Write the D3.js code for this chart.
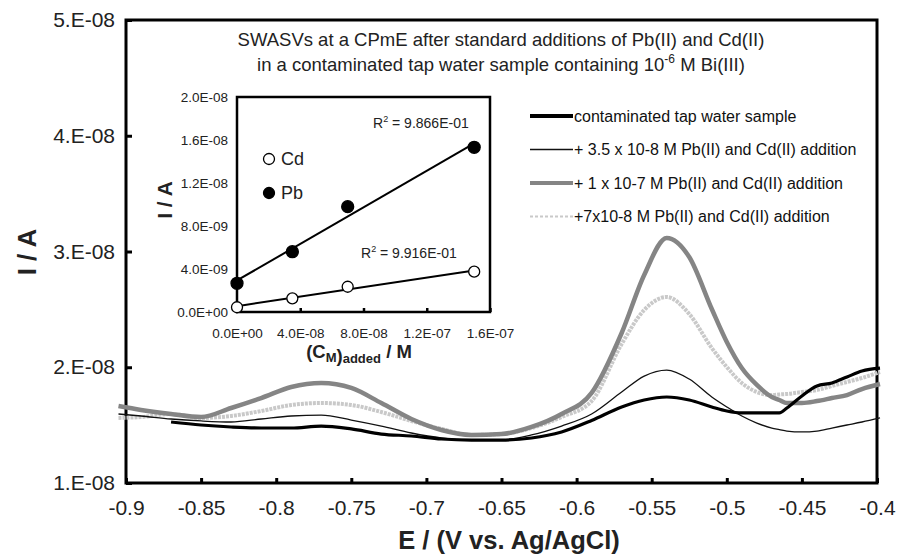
<!DOCTYPE html>
<html lang="en">

<head>
    <meta charset="UTF-8">
    <title>SWASV</title>
    <script src="https://d3js.org/d3.v7.min.js"></script>
    <style>
        * {
            margin: 0;
            padding: 0;
        }

        body {
            background: #fff;
        }

        svg text {
            font-family: "Liberation Sans", Arial, sans-serif;
        }
    </style>
</head>

<body>
    <div id="chart"></div>
    <script>
        // potential grid (V vs. Ag/AgCl)
        const potential = [-0.905, -0.89, -0.87, -0.85, -0.83, -0.81, -0.79, -0.77, -0.75, -0.73, -0.71, -0.69,
            -0.67, -0.65, -0.63, -0.61, -0.59, -0.57, -0.555, -0.54, -0.525, -0.51, -0.50, -0.49, -0.48, -0.47,
            -0.465, -0.46, -0.45, -0.44, -0.43, -0.42, -0.41, -0.398];

        // currents, in units of 1E-08 A
        const sampleI = [null, null, 1.527, 1.501, 1.484, 1.475, 1.475, 1.492, 1.467, 1.423, 1.406, 1.380,
            1.371, 1.371, 1.389, 1.441, 1.540, 1.657, 1.717, 1.743, 1.717, 1.657, 1.622, 1.605, 1.605, 1.605,
            1.605, 1.648, 1.752, 1.838, 1.864, 1.916, 1.968, 1.993];
        const add35I = [1.596, 1.579, 1.553, 1.536, 1.527, 1.553, 1.579, 1.587, 1.544, 1.492, 1.432, 1.389,
            1.371, 1.371, 1.415, 1.492, 1.596, 1.786, 1.924, 1.976, 1.898, 1.743, 1.657, 1.579, 1.518, 1.475,
            1.462, 1.449, 1.441, 1.449, 1.475, 1.501, 1.527, 1.562];
        const add100I = [1.665, 1.631, 1.596, 1.570, 1.648, 1.734, 1.829, 1.864, 1.821, 1.691, 1.553, 1.458,
            1.415, 1.423, 1.484, 1.596, 1.778, 2.296, 2.797, 3.117, 2.952, 2.503, 2.218, 1.993, 1.847, 1.743,
            1.717, 1.691, 1.691, 1.708, 1.734, 1.760, 1.812, 1.855];
        const add70I = [1.562, 1.570, 1.596, 1.562, 1.579, 1.622, 1.674, 1.691, 1.674, 1.613, 1.536, 1.467,
            1.415, 1.423, 1.475, 1.570, 1.708, 2.201, 2.495, 2.607, 2.460, 2.166, 2.002, 1.864, 1.786, 1.760,
            1.765, 1.769, 1.786, 1.803, 1.838, 1.873, 1.907, 1.959];

        const seriesNames = ['contaminated tap water sample', '+ 3.5 x 10-8 M Pb(II) and Cd(II) addition',
            '+ 1 x 10-7 M Pb(II) and Cd(II) addition', '+7x10-8 M Pb(II) and Cd(II) addition'];

        const yTickValues = [1e-8, 2e-8, 3e-8, 4e-8, 5e-8];
        const yTickLabels = ['1.E-08', '2.E-08', '3.E-08', '4.E-08', '5.E-08'];
        const xTickValues = [-0.9, -0.85, -0.8, -0.75, -0.7, -0.65, -0.6, -0.55, -0.5, -0.45, -0.4];
        const xTickLabels = ['-0.9', '-0.85', '-0.8', '-0.75', '-0.7', '-0.65', '-0.6', '-0.55', '-0.5', '-0.45', '-0.4'];

        // inset: peak current vs added concentration
        const added = [0, 3.5e-8, 7e-8, 1.5e-7];
        const peakPb = [2.67e-9, 5.61e-9, 9.80e-9, 15.32e-9];
        const peakCd = [0.44e-9, 1.27e-9, 2.35e-9, 3.75e-9];
        const r2Labels = ['9.866E-01', '9.916E-01'];
        const insetXTicks = [0, 4e-8, 8e-8, 1.2e-7, 1.6e-7];
        const insetXLabels = ['0.0E+00', '4.0E-08', '8.0E-08', '1.2E-07', '1.6E-07'];
        const insetYTicks = [0, 4e-9, 8e-9, 1.2e-8, 1.6e-8, 2e-8];
        const insetYLabels = ['0.0E+00', '4.0E-09', '8.0E-09', '1.2E-08', '1.6E-08', '2.0E-08'];

        const svgWidth = 903;
        const svgHeight = 555;
        const plot = { left: 126, right: 877, top: 20, bottom: 483 };
        const inset = { left: 237, right: 490, top: 97, bottom: 312 };

        // line styles in drawing order
        const styles = [
            { key: 'add70', values: add70I, name: seriesNames[3], color: '#c9c9c9', width: 4, dash: '3,1', legendDash: '3,2', legendWidth: 2 },
            { key: 'add100', values: add100I, name: seriesNames[2], color: '#858585', width: 4.5, dash: null, legendDash: null, legendWidth: 4 },
            { key: 'add35', values: add35I, name: seriesNames[1], color: '#111', width: 1.3, dash: null, legendDash: null, legendWidth: 1.3 },
            { key: 'sample', values: sampleI, name: seriesNames[0], color: '#000', width: 3.2, dash: null, legendDash: null, legendWidth: 4 }
        ];
        const legendOrder = ['sample', 'add35', 'add100', 'add70'];

        const svg = d3.select('#chart')
            .append('svg')
            .attr('width', svgWidth)
            .attr('height', svgHeight);

        const x = d3.scaleLinear().domain([-0.9, -0.4]).range([plot.left, plot.right]);
        const y = d3.scaleLinear().domain([1e-8, 5e-8]).range([plot.bottom, plot.top]);

        // y axis
        const yAxisG = svg.append('g')
            .attr('transform', `translate(${plot.left},0)`)
            .call(d3.axisLeft(y).tickValues(yTickValues).tickSize(-6).tickPadding(11)
                .tickFormat((d, i) => yTickLabels[i]));
        yAxisG.select('.domain').remove();
        yAxisG.selectAll('line').attr('stroke', '#000').attr('stroke-width', 3);
        yAxisG.selectAll('text').attr('font-size', '21px').attr('fill', '#222');

        // x axis
        const xAxisG = svg.append('g')
            .attr('transform', `translate(0,${plot.bottom})`)
            .call(d3.axisBottom(x).tickValues(xTickValues).tickSize(-5).tickPadding(17)
                .tickFormat((d, i) => xTickLabels[i]));
        xAxisG.select('.domain').remove();
        xAxisG.selectAll('line').attr('stroke', '#000').attr('stroke-width', 3);
        xAxisG.selectAll('text').attr('font-size', '21px').attr('fill', '#222');

        // frame
        svg.append('rect')
            .attr('x', plot.left)
            .attr('y', plot.top)
            .attr('width', plot.right - plot.left)
            .attr('height', plot.bottom - plot.top)
            .attr('fill', 'none')
            .attr('stroke', '#000')
            .attr('stroke-width', 3);

        // axis titles
        svg.append('text')
            .attr('transform', `translate(36,252) rotate(-90)`)
            .attr('text-anchor', 'middle')
            .attr('font-size', '26px')
            .attr('font-weight', 'bold')
            .attr('fill', '#222')
            .text('I / A');

        svg.append('text')
            .attr('x', 509)
            .attr('y', 549)
            .attr('text-anchor', 'middle')
            .attr('font-size', '25.5px')
            .attr('font-weight', 'bold')
            .attr('fill', '#222')
            .text('E / (V vs. Ag/AgCl)');

        // title
        const title = svg.append('g').attr('fill', '#222').attr('font-size', '18.5px').attr('text-anchor', 'middle');
        title.append('text').attr('x', 501).attr('y', 46)
            .text('SWASVs at a CPmE after standard additions of Pb(II) and Cd(II)');
        const t2 = title.append('text').attr('x', 501).attr('y', 71);
        t2.append('tspan').text('in a contaminated tap water sample containing 10');
        t2.append('tspan').attr('font-size', '12px').attr('dy', -8).text('-6');
        t2.append('tspan').attr('dy', 8).text(' M Bi(III)');

        // voltammograms
        const line = d3.line()
            .defined(d => d.i !== null)
            .x(d => x(d.e))
            .y(d => y(d.i * 1e-8))
            .curve(d3.curveMonotoneX);

        svg.append('g')
            .selectAll('path')
            .data(styles)
            .enter()
            .append('path')
            .attr('d', s => line(potential.map((e, k) => ({ e: e, i: s.values[k] }))))
            .attr('fill', 'none')
            .attr('stroke', s => s.color)
            .attr('stroke-width', s => s.width)
            .attr('stroke-dasharray', s => s.dash)
            .attr('stroke-linejoin', 'round');

        // legend
        const legend = svg.append('g')
            .selectAll('g')
            .data(legendOrder.map(k => styles.find(s => s.key === k)))
            .enter()
            .append('g')
            .attr('transform', (d, i) => `translate(530,${116 + i * 33.5})`);

        legend.append('line')
            .attr('x1', 0).attr('x2', 43)
            .attr('stroke', d => d.color)
            .attr('stroke-width', d => d.legendWidth)
            .attr('stroke-dasharray', d => d.legendDash);

        legend.append('text')
            .attr('x', 44)
            .attr('dy', '0.35em')
            .attr('font-size', '16px')
            .attr('fill', '#111')
            .text(d => d.name);

        // ---------- inset ----------
        const xi = d3.scaleLinear().domain([0, 1.6e-7]).range([inset.left, inset.right]);
        const yi = d3.scaleLinear().domain([0, 2e-8]).range([inset.bottom, inset.top]);

        svg.append('rect')
            .attr('x', inset.left)
            .attr('y', inset.top)
            .attr('width', inset.right - inset.left)
            .attr('height', inset.bottom - inset.top)
            .attr('fill', '#fff')
            .attr('stroke', '#000')
            .attr('stroke-width', 2.5);

        const xiAxisG = svg.append('g')
            .attr('transform', `translate(0,${inset.bottom})`)
            .call(d3.axisBottom(xi).tickValues(insetXTicks).tickSize(-4).tickPadding(16)
                .tickFormat((d, i) => insetXLabels[i]));
        xiAxisG.select('.domain').remove();
        xiAxisG.selectAll('line').attr('stroke', '#000').attr('stroke-width', 2.5);
        xiAxisG.selectAll('text').attr('font-size', '13.5px').attr('fill', '#222');

        const yiAxisG = svg.append('g')
            .attr('transform', `translate(${inset.left},0)`)
            .call(d3.axisLeft(yi).tickValues(insetYTicks).tickSize(0).tickPadding(9)
                .tickFormat((d, i) => insetYLabels[i]));
        yiAxisG.select('.domain').remove();
        yiAxisG.selectAll('text').attr('font-size', '13.5px').attr('fill', '#222');

        svg.append('text')
            .attr('transform', 'translate(172,200) rotate(-90)')
            .attr('text-anchor', 'middle')
            .attr('font-size', '21px')
            .attr('font-weight', 'bold')
            .attr('fill', '#222')
            .text('I / A');

        const xiTitle = svg.append('text')
            .attr('x', 359)
            .attr('y', 358)
            .attr('text-anchor', 'middle')
            .attr('font-size', '18.5px')
            .attr('font-weight', 'bold')
            .attr('fill', '#222');
        xiTitle.append('tspan').text('(C');
        xiTitle.append('tspan').attr('font-size', '13px').attr('dy', 4).text('M');
        xiTitle.append('tspan').text(')');
        xiTitle.append('tspan').attr('font-size', '13px').attr('dy', 1).text('added');
        xiTitle.append('tspan').attr('dy', -5).text(' / M');

        // least squares fit
        function fit(xs, ys) {
            const mx = d3.mean(xs);
            const my = d3.mean(ys);
            const sxy = d3.sum(xs, (v, k) => (v - mx) * (ys[k] - my));
            const sxx = d3.sum(xs, v => (v - mx) * (v - mx));
            const slope = sxy / sxx;
            return { slope: slope, intercept: my - slope * mx };
        }

        const metals = [
            { ys: peakPb, filled: true, r2: r2Labels[0], label: 'Pb', r2x: 373, r2y: 128, legY: 193 },
            { ys: peakCd, filled: false, r2: r2Labels[1], label: 'Cd', r2x: 361, r2y: 258, legY: 159 }
        ];

        metals.forEach(m => {
            const f = fit(added, m.ys);
            const x0 = d3.min(added);
            const x1 = d3.max(added);
            svg.append('line')
                .attr('x1', xi(x0)).attr('y1', yi(f.intercept + f.slope * x0))
                .attr('x2', xi(x1)).attr('y2', yi(f.intercept + f.slope * x1))
                .attr('stroke', '#000')
                .attr('stroke-width', 2);

            svg.append('g')
                .selectAll('circle')
                .data(added.map((c, k) => [c, m.ys[k]]))
                .enter()
                .append('circle')
                .attr('cx', d => xi(d[0]))
                .attr('cy', d => yi(d[1]))
                .attr('r', m.filled ? 6 : 5.5)
                .attr('fill', m.filled ? '#000' : '#fff')
                .attr('stroke', '#000')
                .attr('stroke-width', 1.3);

            const r2 = svg.append('text')
                .attr('x', m.r2x)
                .attr('y', m.r2y)
                .attr('font-size', '14px')
                .attr('fill', '#222');
            r2.append('tspan').text('R');
            r2.append('tspan').attr('font-size', '9px').attr('dy', -6).text('2');
            r2.append('tspan').attr('dy', 6).text(' = ' + m.r2);

            svg.append('circle')
                .attr('cx', 269)
                .attr('cy', m.legY)
                .attr('r', 5.5)
                .attr('fill', m.filled ? '#000' : '#fff')
                .attr('stroke', '#000')
                .attr('stroke-width', 1.3);
            svg.append('text')
                .attr('x', 281)
                .attr('y', m.legY)
                .attr('dy', '0.36em')
                .attr('font-size', '18px')
                .attr('fill', '#222')
                .text(m.label);
        });
    </script>
</body>

</html>
